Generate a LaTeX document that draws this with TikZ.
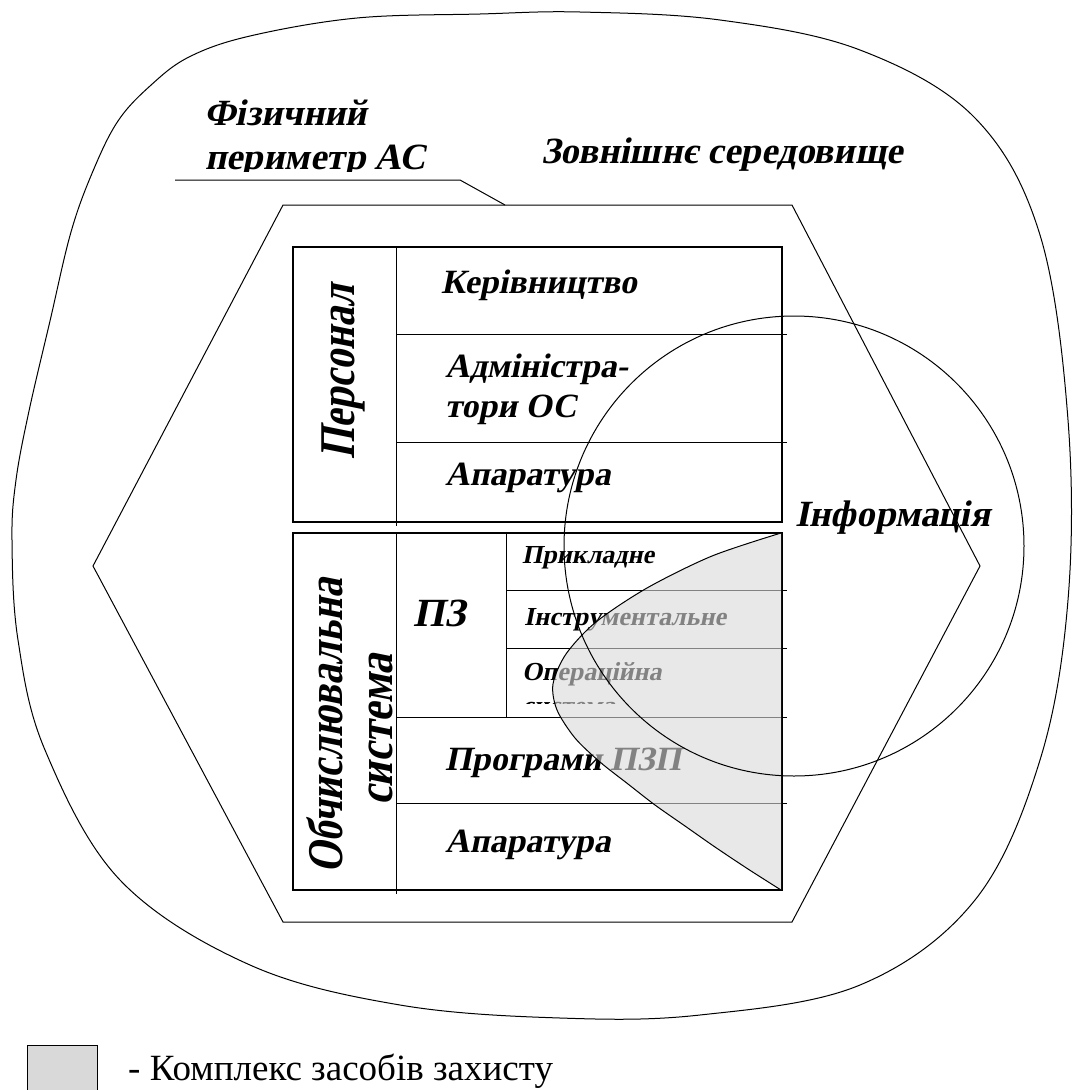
\documentclass[tikz,border=0pt]{standalone}
\usepackage{fontspec}
\setmainfont{Liberation Serif}
\begin{document}
\begin{tikzpicture}[x=1pt,y=-1pt,
  big/.style={font=\fontsize{37}{41}\selectfont\bfseries, inner sep=0pt, anchor=base west, transform shape, xslant=0.2},
  lab/.style={font=\fontsize{34}{38}\selectfont\bfseries, inner sep=0pt, anchor=base west, transform shape, xslant=0.2},
  sml/.style={font=\fontsize{26}{30}\selectfont\bfseries, inner sep=0pt, anchor=base west, transform shape, xslant=0.2},
  vert/.style={font=\fontsize{50}{54}\selectfont\bfseries, inner sep=0pt, anchor=base, transform shape, rotate=90, xslant=0.2},
  tbl/.style={line width=1.5pt},
  ln/.style={line width=1pt},
  zone/.style={fill=black!15, fill opacity=0.6}]
\clip (0,0) rectangle (1074,1090);
\fill[white] (0,0) rectangle (1074,1090);

% outer environment
\draw[ln] plot[smooth cycle, tension=0.6] coordinates {
 (12,540) (16,480) (29,411) (50,321) (71,232) (93,171) (118,121) (150,86) (189,57) (250,36)
 (357,18) (480,14) (580,12) (720,20)
 (860,50) (975,118) (1040,235) (1068,420) (1068,600) (1040,760) (975,900)
 (860,985) (700,1015) (560,1018) (400,1005) (250,965) (120,880) (45,750) (18,640)};

% physical perimeter
\draw[ln] (283,205) -- (792,205) -- (980,566) -- (792,922) -- (283,922) -- (93,566) -- cycle;
\draw[ln] (175,180) -- (460,180) -- (505,205);

\begin{scope}
\clip (150,60) rectangle (500,171);
\node[big] (fiz1) at (204,125) {Фізичний};
\node[big] (fiz2) at (205,169) {периметр АС};
\end{scope}
\node[big] (zovn) at (541,163) {Зовнішнє середовище};

% personnel table
\draw[tbl] (293,247) rectangle (782,522);
\draw[ln] (396,247) -- (396,526);
\draw[ln] (396,334) -- (787,334);
\draw[ln] (396,442) -- (787,442);
\node[vert, xscale=0.8] (pers) at (354,372) {Персонал};
\node[lab] (ker) at (441,293) {Керівництво};
\node[lab] (adm1) at (445,377) {Адміністра-};
\node[lab] (adm2) at (445,417) {тори ОС};
\node[lab] (apa1) at (445,485) {Апаратура};

% computing system table
\draw[tbl] (293,533) rectangle (782,890);
\draw[ln] (396,533) -- (396,894);
\draw[ln] (506,533) -- (506,717);
\draw[ln] (506,590) -- (787,590);
\draw[ln] (506,648) -- (787,648);
\draw[ln] (396,717) -- (787,717);
\draw[ln] (396,803) -- (787,803);
\node[vert, xscale=0.8] (obch1) at (342,726) {Обчислювальна};
\node[vert, xscale=0.85] (obch2) at (392,730) {система};
\node[lab, font=\fontsize{40}{44}\selectfont\bfseries] (pz) at (413,626) {ПЗ};
\node[sml] (prykl) at (522,563) {Прикладне};
\node[sml] (instr) at (524,625) {Інструментальне};
\node[sml] (oper) at (522,680) {Операційна};
\begin{scope}
\clip (506,648) rectangle (782,703);
\node[sml] (syst) at (522,714) {система};
\end{scope}
\node[lab] (prog) at (445,770) {Програми ПЗП};
\node[lab] (apa2) at (445,852) {Апаратура};

% protection complex
\fill[zone] plot[smooth, tension=0.5] coordinates {(781,533) (712,556) (647,588) (596,622) (566,654) (553,684) (557,710) (575,738) (600,762) (628,784) (655,805) (685,826) (715,847) (748,869) (781,890)} -- cycle;
\draw[ln] plot[smooth, tension=0.5] coordinates {(781,533) (712,556) (647,588) (596,622) (566,654) (553,684) (557,710) (575,738) (600,762) (628,784) (655,805) (685,826) (715,847) (748,869) (781,890)};

% information
\draw[ln] (794,546) circle (230pt);
\node[big] (inf) at (795,526) {Інформація};

% legend
\draw[line width=0.8pt, fill=black!15] (27,1045) rectangle (97,1100);
\node[font=\fontsize{37}{41}\selectfont, inner sep=0pt, anchor=base west] (leg) at (128,1080) {- Комплекс засобів захисту};
\end{tikzpicture}
\end{document}
